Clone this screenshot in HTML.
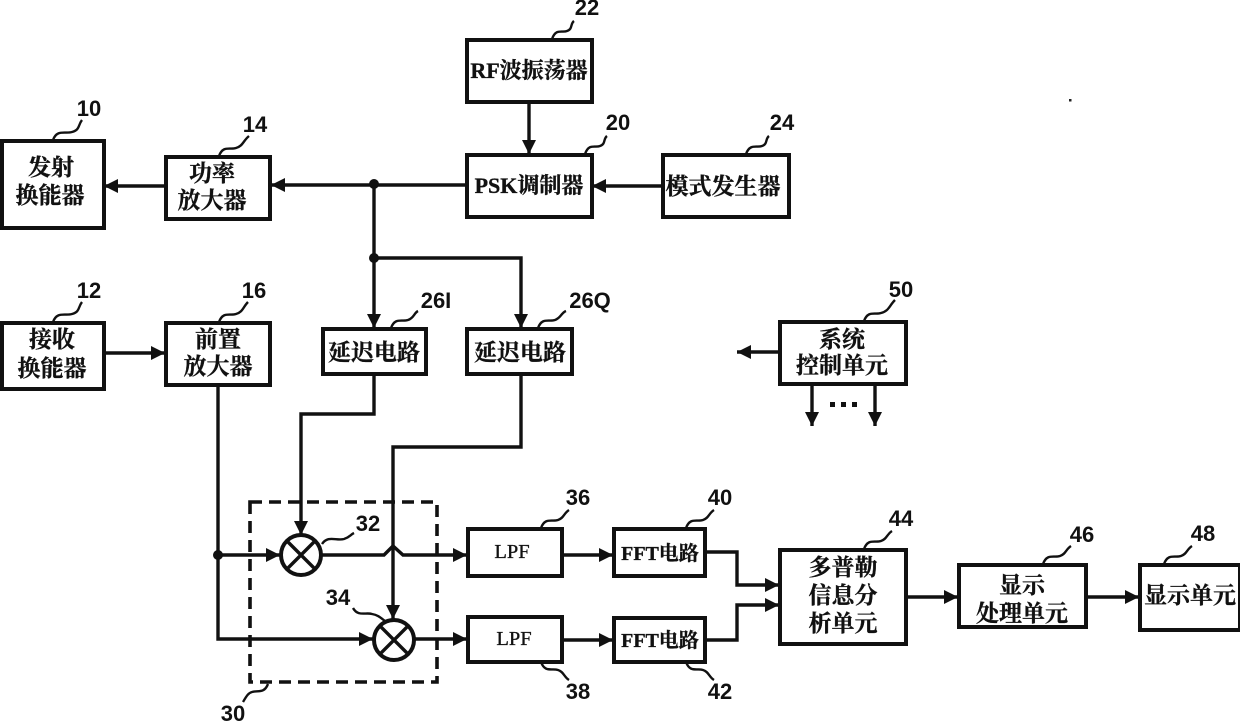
<!DOCTYPE html>
<html>
<head>
<meta charset="utf-8">
<style>
html,body{margin:0;padding:0;background:#fff;width:1240px;height:722px;overflow:hidden}
svg{display:block}
.b{fill:#fff;stroke:#111;stroke-width:4}
.l{fill:none;stroke:#111;stroke-width:3.4}
.s{fill:none;stroke:#111;stroke-width:2.4}
.t{font-family:"Liberation Serif","Noto Serif CJK SC",serif;font-weight:700;font-size:23px;fill:#111;text-anchor:middle;stroke:#111;stroke-width:.35px}
.n{font-family:"Liberation Sans","DejaVu Sans",sans-serif;font-weight:700;font-size:22px;fill:#111;text-anchor:middle}
</style>
</head>
<body>
<svg width="1240" height="722" viewBox="0 0 1240 722" xmlns="http://www.w3.org/2000/svg">
<defs>
<marker id="a" markerUnits="userSpaceOnUse" markerWidth="15" markerHeight="14" refX="14" refY="7" orient="auto"><path d="M0 0L14 7L0 14Z" fill="#111"/></marker>
</defs>

<!-- connectors -->
<g class="l">
<path d="M529 102V154" marker-end="url(#a)"/>
<path d="M662 186H592" marker-end="url(#a)"/>
<path d="M466 185H271" marker-end="url(#a)"/>
<path d="M165 186H104" marker-end="url(#a)"/>
<path d="M374 185V328" marker-end="url(#a)"/>
<path d="M374 258H521V328" marker-end="url(#a)"/>
<path d="M104 353H165" marker-end="url(#a)"/>
<path d="M218 386V639H373" marker-end="url(#a)"/>
<path d="M218 555H280" marker-end="url(#a)"/>
<path d="M374 375V414H301V535" marker-end="url(#a)"/>
<path d="M521 375V447H393V619" marker-end="url(#a)"/>
<path d="M320 555H384L393 546L403 555H467" marker-end="url(#a)"/>
<path d="M413 639H467" marker-end="url(#a)"/>
<path d="M562 555H613" marker-end="url(#a)"/>
<path d="M562 640H613" marker-end="url(#a)"/>
<path d="M706 552H737V585H779" marker-end="url(#a)"/>
<path d="M706 640H737V605H779" marker-end="url(#a)"/>
<path d="M907 597H958" marker-end="url(#a)"/>
<path d="M1087 597H1139" marker-end="url(#a)"/>
<path d="M779 352H737" marker-end="url(#a)"/>
<path d="M812 385V426" marker-end="url(#a)"/>
<path d="M875 385V426" marker-end="url(#a)"/>
</g>
<circle cx="374" cy="184" r="5" fill="#111"/>
<circle cx="374" cy="258" r="5" fill="#111"/>
<circle cx="218" cy="555" r="5" fill="#111"/>
<g fill="#111"><rect x="830" y="402" width="5" height="5"/><rect x="841" y="402" width="5" height="5"/><rect x="852" y="402" width="5" height="5"/></g>

<!-- dashed block -->
<path d="M250 502H437V682H250Z" fill="none" stroke="#111" stroke-width="3.6" stroke-dasharray="12 7"/>

<!-- boxes -->
<rect class="b" x="467" y="40" width="125" height="62"/>
<rect class="b" x="467" y="155" width="125" height="62"/>
<rect class="b" x="663" y="155" width="126" height="62"/>
<rect class="b" x="166" y="157" width="104" height="62"/>
<rect class="b" x="2" y="141" width="102" height="87"/>
<rect class="b" x="2" y="323" width="102" height="66"/>
<rect class="b" x="166" y="323" width="104" height="62"/>
<rect class="b" x="323" y="329" width="103" height="45"/>
<rect class="b" x="467" y="329" width="105" height="45"/>
<rect class="b" x="780" y="322" width="126" height="62"/>
<rect class="b" x="468" y="529" width="94" height="47"/>
<rect class="b" x="468" y="617" width="94" height="45"/>
<rect class="b" x="614" y="529" width="91" height="47"/>
<rect class="b" x="614" y="618" width="91" height="44"/>
<rect class="b" x="780" y="550" width="126" height="94"/>
<rect class="b" x="959" y="565" width="127" height="62"/>
<rect class="b" x="1140" y="565" width="100" height="65"/>

<!-- mixers -->
<g>
<circle cx="301" cy="555" r="20" fill="#fff" stroke="#111" stroke-width="4"/>
<path d="M287 541L315 569M315 541L287 569" stroke="#111" stroke-width="3.4"/>
<circle cx="394" cy="640" r="20" fill="#fff" stroke="#111" stroke-width="4"/>
<path d="M380 626L408 654M408 626L380 654" stroke="#111" stroke-width="3.4"/>
</g>

<!-- box text -->
<g class="t">
<text x="529" y="78" font-size="22">RF波振荡器</text>
<text x="529" y="193" font-size="22">PSK调制器</text>
<text x="723" y="194">模式发生器</text>
<text x="212" y="181">功率</text>
<text x="212" y="208">放大器</text>
<text x="51" y="175">发射</text>
<text x="50" y="203">换能器</text>
<text x="52" y="347">接收</text>
<text x="52" y="376">换能器</text>
<text x="218" y="347">前置</text>
<text x="218" y="374">放大器</text>
<text x="374" y="360">延迟电路</text>
<text x="520" y="360">延迟电路</text>
<text x="842" y="347">系统</text>
<text x="842" y="373">控制单元</text>
<text x="512" y="558" font-size="20.5" font-weight="400">LPF</text>
<text x="514" y="645" font-size="20.5" font-weight="400">LPF</text>
<text x="660" y="560" font-size="20">FFT电路</text>
<text x="660" y="647" font-size="20">FFT电路</text>
<text x="843" y="575">多普勒</text>
<text x="843" y="603">信息分</text>
<text x="843" y="631">析单元</text>
<text x="1022" y="593">显示</text>
<text x="1022" y="621">处理单元</text>
<text x="1190" y="603">显示单元</text>
</g>

<!-- reference numbers -->
<g class="n">
<text x="587" y="15">22</text>
<text x="618" y="130">20</text>
<text x="782" y="130">24</text>
<text x="89" y="116">10</text>
<text x="255" y="132">14</text>
<text x="89" y="298">12</text>
<text x="254" y="298">16</text>
<text x="436" y="308">26I</text>
<text x="590" y="308">26Q</text>
<text x="901" y="297">50</text>
<text x="368" y="531">32</text>
<text x="338" y="605">34</text>
<text x="578" y="505">36</text>
<text x="578" y="699">38</text>
<text x="720" y="505">40</text>
<text x="720" y="699">42</text>
<text x="901" y="526">44</text>
<text x="1082" y="542">46</text>
<text x="1203" y="541">48</text>
<text x="233" y="721">30</text>
</g>

<!-- leader squiggles -->
<g class="s">
<path d="M552 39C556 28 562 33 567 31C573 29 570 24 574 21"/>
<path d="M585 154C589 143 595 148 600 146C606 144 603 139 607 136"/>
<path d="M746 154C750 143 757 148 762 146C768 144 765 139 769 136"/>
<path d="M53 140C57 129 65 134 72 132C80 130 78 125 82 120"/>
<path d="M219 156C223 145 230 150 236 148C243 146 243 141 249 136"/>
<path d="M53 322C57 311 65 316 72 314C80 312 78 307 82 302"/>
<path d="M219 322C223 311 230 316 236 314C243 312 243 307 248 302"/>
<path d="M391 328C395 317 402 322 408 320C414 318 414 313 418 311"/>
<path d="M538 328C542 317 549 322 555 320C561 318 561 313 566 311"/>
<path d="M864 321C868 310 875 315 881 313C889 311 889 306 895 300"/>
<path d="M322 544C328 535 336 541 344 539C350 537 350 535 354 533"/>
<path d="M353 608C358 617 366 612 372 614C378 615 381 618 385 621"/>
<path d="M541 528C545 517 552 522 558 520C564 518 564 513 569 510"/>
<path d="M541 662C545 673 552 668 558 670C564 672 564 677 569 680"/>
<path d="M686 528C690 517 697 522 703 520C709 518 709 513 714 510"/>
<path d="M686 662C690 673 697 668 703 670C709 672 709 677 714 680"/>
<path d="M864 549C868 538 875 543 881 541C887 539 887 534 892 531"/>
<path d="M1043 564C1047 553 1054 558 1060 556C1066 554 1066 549 1071 546"/>
<path d="M1164 564C1168 553 1175 558 1181 556C1187 554 1187 549 1192 546"/>
<path d="M268 684C264 694 258 690 252 692C248 693 246 697 243 702"/>
</g>
<rect x="1069" y="99" width="2.5" height="2.5" fill="#222"/>
</svg>
</body>
</html>
